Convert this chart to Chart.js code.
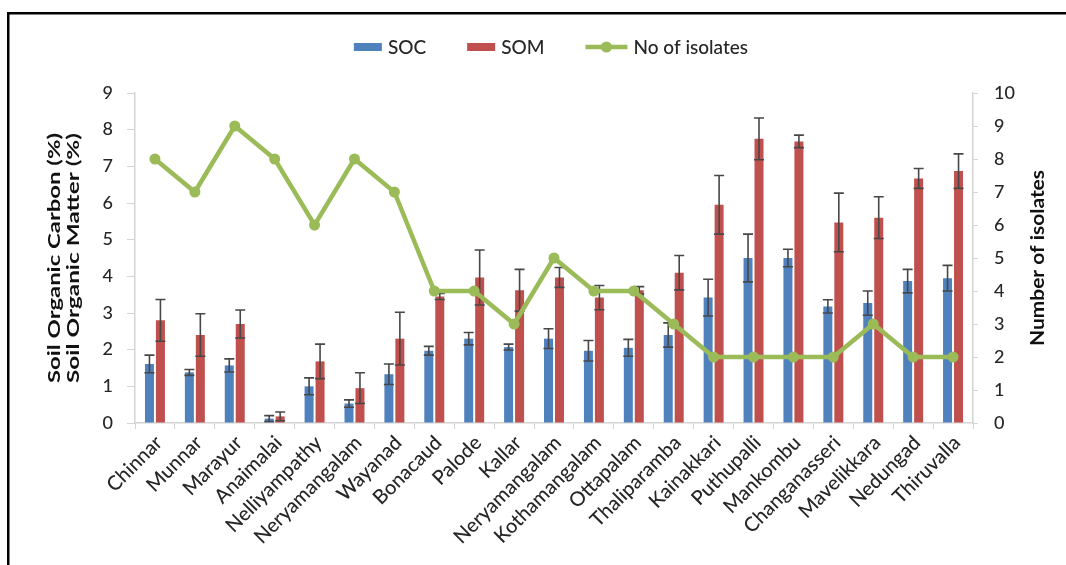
<!DOCTYPE html>
<html>
<head>
<meta charset="utf-8">
<script src="https://cdn.jsdelivr.net/npm/chart.js@4.4.1/dist/chart.umd.min.js"></script>
<style>
  html, body { margin: 0; padding: 0; background: #ffffff; }
  canvas { display: block; }
</style>
</head>
<body>
<canvas id="chart" width="1066" height="565"></canvas>
<script>
// Sampling sites
const sites = ['Chinnar', 'Munnar', 'Marayur', 'Anaimalai', 'Nelliyampathy', 'Neryamangalam',
  'Wayanad', 'Bonacaud', 'Palode', 'Kallar', 'Neryamangalam', 'Kothamangalam', 'Ottapalam',
  'Thaliparamba', 'Kainakkari', 'Puthupalli', 'Mankombu', 'Changanasseri', 'Mavelikkara',
  'Nedungad', 'Thiruvalla'];

// Soil organic carbon (%) and its standard deviation
const soc    = [1.61, 1.38, 1.57, 0.12, 1.00, 0.53, 1.33, 1.97, 2.30, 2.07, 2.30, 1.97, 2.05, 2.40, 3.42, 4.50, 4.50, 3.18, 3.27, 3.87, 3.95];
const socErr = [0.24, 0.08, 0.18, 0.08, 0.23, 0.10, 0.28, 0.12, 0.17, 0.08, 0.27, 0.28, 0.23, 0.33, 0.50, 0.65, 0.24, 0.18, 0.33, 0.32, 0.35];

// Soil organic matter (%) and its standard deviation
const som    = [2.80, 2.40, 2.70, 0.18, 1.68, 0.95, 2.30, 3.45, 3.97, 3.62, 3.97, 3.42, 3.62, 4.10, 5.95, 7.75, 7.68, 5.47, 5.60, 6.67, 6.87];
const somErr = [0.57, 0.58, 0.38, 0.12, 0.47, 0.42, 0.72, 0.08, 0.75, 0.57, 0.27, 0.33, 0.10, 0.47, 0.80, 0.57, 0.17, 0.80, 0.57, 0.27, 0.47];

// Number of isolates per site
const isolates = [8, 7, 9, 8, 6, 8, 7, 4, 4, 3, 5, 4, 4, 3, 2, 2, 2, 2, 3, 2, 2];

// Axis ranges and titles
const leftMax = 9;
const rightMax = 10;
const leftTitle = ['Soil Organic Carbon (%)', 'Soil Organic Matter (%)'];
const rightTitle = 'Number of isolates';

const FONT = 'Lato, "Open Sans", sans-serif';
const TEXT = '#262626';
const AXIS = '#d4d4d4';
const BLUE = '#4F81BD';
const RED = '#C0504D';
const GREEN = '#9BBB59';
const ERR = '#474747';

// White background and the black frame lines
const framePlugin = {
  id: 'frame',
  beforeDraw(chart) {
    const ctx = chart.ctx;
    ctx.save();
    ctx.fillStyle = '#ffffff';
    ctx.fillRect(0, 0, chart.width, chart.height);
    ctx.fillStyle = '#000000';
    ctx.fillRect(7, 12, chart.width - 7, 2.5);
    ctx.fillRect(7, 12, 2.5, chart.height - 12);
    ctx.restore();
  }
};

// Error bars (mean ± SD) drawn right after each bar dataset
const errorBarPlugin = {
  id: 'errorBars',
  afterDatasetDraw(chart, args) {
    const ds = chart.data.datasets[args.index];
    if (!ds.errors) return;
    const yScale = chart.scales[ds.yAxisID || 'y'];
    const ctx = chart.ctx;
    ctx.save();
    ctx.strokeStyle = ERR;
    ctx.lineWidth = 1.6;
    args.meta.data.forEach((bar, i) => {
      const v = ds.data[i];
      const e = ds.errors[i];
      const x = bar.x;
      const yTop = yScale.getPixelForValue(v + e);
      const yBot = yScale.getPixelForValue(Math.max(v - e, 0));
      const cap = 5;
      ctx.beginPath();
      ctx.moveTo(x, yTop); ctx.lineTo(x, yBot);
      ctx.moveTo(x - cap, yTop); ctx.lineTo(x + cap, yTop);
      ctx.moveTo(x - cap, yBot); ctx.lineTo(x + cap, yBot);
      ctx.stroke();
    });
    ctx.restore();
  }
};

// Legend row above the plot
const legendPlugin = {
  id: 'topLegend',
  afterDraw(chart) {
    const ctx = chart.ctx;
    const items = chart.data.datasets.map(d => ({ text: d.label, color: d.borderColor || d.backgroundColor, kind: d.type === 'line' ? 'line' : 'box' }));
    ctx.save();
    ctx.font = '500 19px ' + FONT;
    const sym = 28, symGap = 6, itemGap = 41, lineSym = 42;
    let total = 0;
    items.forEach((it, i) => {
      it.w = ctx.measureText(it.text).width;
      it.s = it.kind === 'line' ? lineSym : sym;
      total += it.s + symGap + it.w + (i ? itemGap : 0);
    });
    const area = chart.chartArea;
    let x = (area.left + area.right) / 2 - 3 - total / 2;
    const cy = 47;
    items.forEach(it => {
      if (it.kind === 'box') {
        ctx.fillStyle = it.color;
        ctx.fillRect(x, cy - 4, it.s, 8);
      } else {
        ctx.strokeStyle = it.color;
        ctx.lineWidth = 4.5;
        ctx.beginPath();
        ctx.moveTo(x, cy); ctx.lineTo(x + it.s, cy);
        ctx.stroke();
        ctx.fillStyle = it.color;
        ctx.beginPath();
        ctx.arc(x + it.s / 2, cy, 5.5, 0, Math.PI * 2);
        ctx.fill();
      }
      x += it.s + symGap;
      ctx.fillStyle = TEXT;
      ctx.textBaseline = 'middle';
      ctx.textAlign = 'left';
      ctx.fillText(it.text, x, cy + 1);
      x += it.w + itemGap;
    });
    ctx.restore();
  }
};

// Draws one vertical axis title, reading bottom to top, stretched to a given length
function drawVerticalTitle(ctx, text, cx, cy, length, size) {
  ctx.save();
  ctx.font = 'bold ' + size + 'px ' + FONT;
  const w = ctx.measureText(text).width;
  ctx.translate(cx, cy);
  ctx.rotate(-Math.PI / 2);
  ctx.scale(length / w, 1);
  ctx.fillStyle = '#111111';
  ctx.textAlign = 'center';
  ctx.textBaseline = 'middle';
  ctx.fillText(text, 0, 0);
  ctx.restore();
}

const axisTitlePlugin = {
  id: 'axisTitles',
  afterDraw(chart) {
    const yl = chart.scales.y;
    const yr = chart.scales.y1;
    const midY = (yl.top + yl.bottom) / 2;
    leftTitle.forEach((t, i) => drawVerticalTitle(chart.ctx, t, yl.left + 55 + i * 18.5, midY, 250, 17));
    drawVerticalTitle(chart.ctx, rightTitle, yr.left + 65, midY, 176, 18);
  }
};

new Chart(document.getElementById('chart'), {
  data: {
    labels: sites,
    datasets: [
      {
        type: 'bar', label: 'SOC', data: soc, errors: socErr, yAxisID: 'y',
        backgroundColor: BLUE, borderWidth: 0, order: 1,
        categoryPercentage: 0.55, barPercentage: 0.82
      },
      {
        type: 'bar', label: 'SOM', data: som, errors: somErr, yAxisID: 'y',
        backgroundColor: RED, borderWidth: 0, order: 1,
        categoryPercentage: 0.55, barPercentage: 0.82
      },
      {
        type: 'line', label: 'No of isolates', data: isolates, yAxisID: 'y1',
        borderColor: GREEN, backgroundColor: GREEN, borderWidth: 4.5,
        pointRadius: 5.5, pointBackgroundColor: GREEN, pointBorderWidth: 0,
        tension: 0, order: 0
      }
    ]
  },
  options: {
    responsive: false,
    animation: false,
    devicePixelRatio: 1,
    layout: { padding: { top: 93, left: 0, right: 0, bottom: 0 } },
    plugins: {
      legend: { display: false },
      tooltip: { enabled: false }
    },
    scales: {
      x: {
        offset: true,
        grid: { display: true, drawOnChartArea: false, offset: true, tickLength: 6, color: AXIS },
        border: { display: true, color: AXIS, width: 1.5 },
        ticks: {
          autoSkip: false, maxRotation: 45, minRotation: 45, padding: 2, labelOffset: 4,
          color: TEXT, font: { family: FONT, size: 20, weight: '500' }
        },
        afterFit(s) { s.height = 142; }
      },
      y: {
        position: 'left', min: 0, max: leftMax,
        grid: { display: true, drawOnChartArea: false, tickLength: 8, color: AXIS },
        border: { display: true, color: AXIS, width: 1.5 },
        ticks: { stepSize: 1, padding: 14, color: TEXT, font: { family: FONT, size: 18, weight: '500' } },
        afterFit(s) { s.width = 135; }
      },
      y1: {
        position: 'right', min: 0, max: rightMax,
        grid: { display: true, drawOnChartArea: false, tickLength: 5, color: AXIS },
        border: { display: true, color: AXIS, width: 1.5 },
        ticks: { stepSize: 1, padding: 16, color: TEXT, font: { family: FONT, size: 18, weight: '500' } },
        afterFit(s) { s.width = 93; }
      }
    }
  },
  plugins: [framePlugin, errorBarPlugin, legendPlugin, axisTitlePlugin]
});
</script>
</body>
</html>
